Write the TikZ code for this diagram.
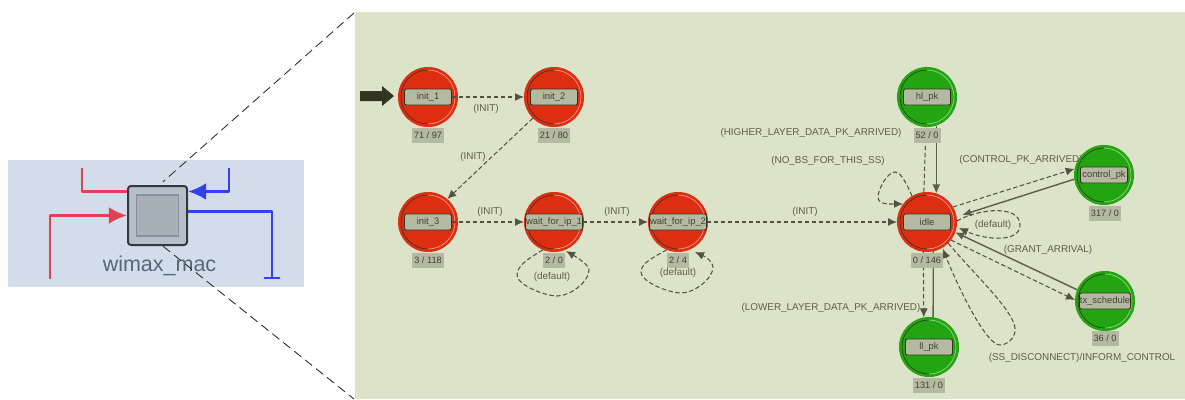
\documentclass[tikz,border=0pt]{standalone}
\usepackage{fontspec}
\setmainfont{Liberation Sans}
\usetikzlibrary{arrows.meta}
\definecolor{panelgreen}{HTML}{DCE3C9}
\definecolor{panelblue}{HTML}{D3DDEA}
\definecolor{stred}{HTML}{DE2E12}
\definecolor{stgreen}{HTML}{22A511}
\definecolor{boxfill}{HTML}{B4B9A2}
\definecolor{dk}{HTML}{33361F}
\definecolor{txt}{HTML}{5E6044}
\definecolor{solidc}{HTML}{5B5E48}
\definecolor{wred}{HTML}{DE4354}
\definecolor{wblue}{HTML}{3640F2}
\definecolor{macband}{HTML}{B6BEC8}
\definecolor{macin}{HTML}{A7AFB9}
\definecolor{macedge}{HTML}{2F3A46}
\definecolor{macbevel}{HTML}{87909C}
\definecolor{mactext}{HTML}{566779}
\tikzset{
  statecircle/.style={circle,minimum size=59pt,inner sep=0pt,fill=#1,draw=#1,line width=1pt},
  namebox/.style={rectangle,rounded corners=2pt,minimum width=47pt,minimum height=16pt,inner sep=.5pt,fill=boxfill,draw=dk,line width=.9pt,font=\fontsize{9.4}{9.4}\selectfont,text=txt!70!black},
  countbox/.style={rectangle,minimum height=15pt,inner sep=2pt,fill=boxfill,font=\fontsize{9.2}{9.4}\selectfont,text=txt!70!black},
  edgelabel/.style={inner sep=0pt,font=\fontsize{9.9}{10}\selectfont,text=txt},
  trd/.style={draw=dk!85!white,line width=1.05pt,dash pattern=on 4.5pt off 2.5pt,-{Latex[length=9pt,width=8pt]}},
  trs/.style={draw=solidc,line width=1.4pt,-{Latex[length=9pt,width=8pt]}},
  leader/.style={draw=black!80,line width=.9pt,dash pattern=on 9pt off 5pt},
  ringdark/.style={draw=dk,line width=.6pt},
  ringlight/.style={draw=white,opacity=.5,line width=.7pt},
  wire/.style={line width=2.6pt,line join=round},
  wiretip/.style={-{Latex[length=18pt,width=17pt]}}
}
\newcommand{\mkstate}[4]{%
  \node[statecircle=#4] (#1) at (#2) {};
  \draw[ringdark] ([yshift=27pt]#1.center) arc[start angle=90,end angle=270,radius=27pt];
  \draw[ringlight] ([yshift=-27pt]#1.center) arc[start angle=-90,end angle=90,radius=27pt];
  \node[namebox] (#1-n) at (#2) {#3};
}
\begin{document}
\begin{tikzpicture}[x=1pt,y=-1pt]
\useasboundingbox (0,0) rectangle (1185,399);
\fill[white] (0,0) rectangle (1185,399);
\fill[panelblue] (8,160) rectangle (304,287);
\fill[panelgreen] (355,12) rectangle (1185,399);

\node[draw=none,minimum width=61pt,minimum height=61pt,inner sep=0pt] (mac) at (157.5,215.5) {};
\coordinate (r1) at (82,168);
\coordinate (r2) at (50,279);
\coordinate (b1) at (229,168);
\coordinate (b2) at (272,278);
\draw[wred,wire] (r1) |- ([yshift=24pt]mac.west);
\draw[wred,wire,wiretip] (r2) |- (mac.west);
\draw[wblue,wire,wiretip] (b1) |- ([yshift=24pt]mac.east);
\draw[wblue,wire] ([yshift=4pt]mac.east) -| (b2);
\draw[wblue,wire] ([xshift=-8pt]b2) -- ([xshift=8pt]b2);
\node[rectangle,rounded corners=3pt,draw=macedge,line width=2pt,fill=macband,minimum width=59pt,minimum height=59pt] at (mac) {};
\node[rectangle,draw=macbevel,line width=1.6pt,fill=macin,minimum width=42pt,minimum height=41pt] at (mac) {};
\node[inner sep=0pt,font=\fontsize{21.5}{23}\selectfont,text=mactext] (maclabel) at (159.5,266) {wimax\_mac};

\coordinate (lt) at (354,13);
\coordinate (lb) at (354,399);
\draw[leader] (lt) -- ([xshift=5.5pt,yshift=3pt]mac.north);
\draw[leader] ([xshift=5.5pt]mac.south) -- (lb);

\mkstate{i1}{428,97}{init\_1}{stred}
\mkstate{i2}{554,97}{init\_2}{stred}
\mkstate{i3}{428,222}{init\_3}{stred}
\mkstate{w1}{554,222}{wait\_for\_ip\_1}{stred}
\mkstate{w2}{678,222}{wait\_for\_ip\_2}{stred}
\mkstate{idle}{927,222}{idle}{stred}
\mkstate{hl}{927,97}{hl\_pk}{stgreen}
\mkstate{ctl}{1104,175}{control\_pk}{stgreen}
\mkstate{tx}{1105,301}{tx\_schedule}{stgreen}
\mkstate{ll}{929,347}{ll\_pk}{stgreen}

\fill[dk] (360,91) -- (382,91) -- (382,86) -- (394,96) -- (382,106) -- (382,101) -- (360,101) -- cycle;

\draw[trd] (i1-n.east) -- (i2.west);
\draw[trd] (i2.225) -- (i3.50);
\draw[trd] (i3-n.east) -- (w1.west);
\draw[trd] (w1-n.east) -- (w2.west);
\draw[trd] (w2-n.east) -- (idle.west);
\draw[trd] (w1.-112) .. controls (530,258) and (517,265) .. (517,275) .. controls (517,285) and (545,296) .. (557,296) .. controls (570,296) and (589,282) .. (589,270) .. controls (589,265) and (578,258) .. (566,251);
\draw[trd] (w2.-112) .. controls (654,257) and (641,263) .. (641,272) .. controls (641,282) and (669,293) .. (681,293) .. controls (694,293) and (713,279) .. (713,267) .. controls (713,262) and (706,257) .. (695,252);
\draw[trd] (idle.120) .. controls (905,180) and (900,172) .. (895,172) .. controls (887,172) and (878,190) .. (878,197) .. controls (878,205) and (890,204) .. (idle.143);
\draw[trd] (idle.96) -- (hl.-92);
\draw[trs] (hl.-72) -- (idle.72);
\draw[trd] (idle.30) -- (ctl.168);
\draw[trs,shorten >=6pt] (ctl.188) -- (idle.10);
\draw[trd] (idle.2) .. controls (980,208) and (1020,205) .. (1020,225) .. controls (1020,243) and (985,240) .. (959,228);
\draw[trs] (tx.158) -- (idle.-20);
\draw[trd] (idle.-37) -- (tx.178);
\draw[trd] (idle.-45) .. controls (975,275) and (1013,310) .. (1015,328) .. controls (1016,340) and (1005,345) .. (1000,345) .. controls (985,345) and (955,280) .. (943,249);
\draw[trd] (idle.-97) -- (ll.100);
\draw[trs,-] (ll.82) -- (idle.-78);

\node[countbox] (c1) at (428,135) {71 / 97};
\node[countbox] (c2) at (554,135) {21 / 80};
\node[countbox] (c3) at (428,260) {3 / 118};
\node[countbox] (c4) at (554,260) {2 / 0};
\node[countbox] (c5) at (678,260) {2 / 4};
\node[countbox] (c6) at (927,260) {0 / 146};
\node[countbox] (c7) at (927,135) {52 / 0};
\node[countbox] (c8) at (1105,213) {317 / 0};
\node[countbox] (c9) at (1105,338) {36 / 0};
\node[countbox] (c10) at (929,385) {131 / 0};

\node[edgelabel] (l1) at (486,109) {(INIT)};
\node[edgelabel] (l2) at (473,157) {(INIT)};
\node[edgelabel] (l3) at (490,212) {(INIT)};
\node[edgelabel] (l4) at (617,212) {(INIT)};
\node[edgelabel] (l5) at (805,212) {(INIT)};
\node[edgelabel] (l6) at (552,277) {(default)};
\node[edgelabel] (l7) at (678,273) {(default)};
\node[edgelabel] (l8) at (811,133) {(HIGHER\_LAYER\_DATA\_PK\_ARRIVED)};
\node[edgelabel] (l9) at (828,161) {(NO\_BS\_FOR\_THIS\_SS)};
\node[edgelabel] (l10) at (1021,160) {(CONTROL\_PK\_ARRIVED)};
\node[edgelabel] (l11) at (993,225) {(default)};
\node[edgelabel] (l12) at (1048,250) {(GRANT\_ARRIVAL)};
\node[edgelabel] (l13) at (1082,358) {(SS\_DISCONNECT)/INFORM\_CONTROL};
\node[edgelabel] (l14) at (831,308) {(LOWER\_LAYER\_DATA\_PK\_ARRIVED)};
\end{tikzpicture}
\end{document}
